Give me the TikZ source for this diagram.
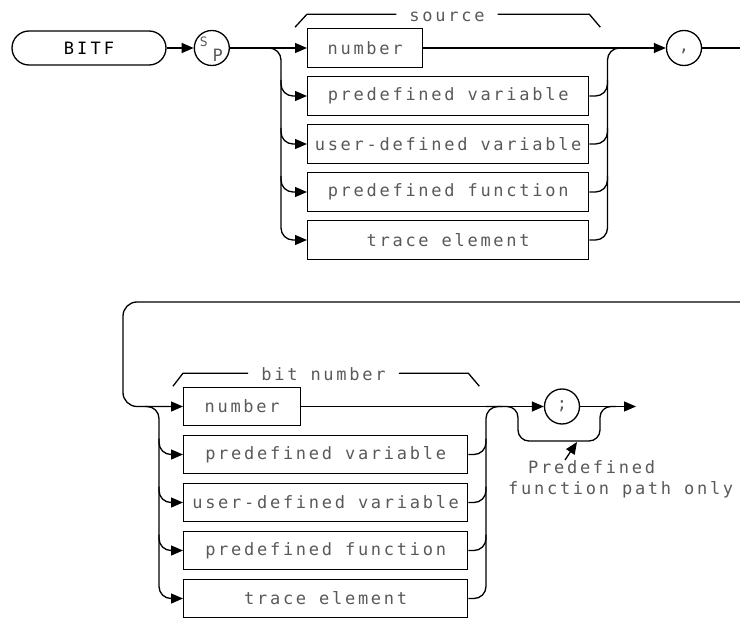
\documentclass[tikz,border=0pt]{standalone}
\usepackage{fontspec}
\newfontfamily\hpfont[LetterSpace=16]{DejaVu Sans Mono}
\newfontfamily\hpkey[LetterSpace=18]{DejaVu Sans Mono}
\usetikzlibrary{arrows.meta, positioning, calc}
\newcommand{\hptext}{\fontsize{17}{19}\hpfont}
\newcommand{\hpsmall}{\fontsize{13}{14}\hpfont}
\newcommand{\hpbig}{\fontsize{17}{19}\hpkey}
\tikzset{
  kbox/.style={draw, line width=1.3pt, rounded corners=17pt, minimum width=154pt,
    minimum height=34pt, inner sep=0pt, font=\hpbig},
  ebox/.style={draw, line width=1.3pt, minimum height=38.5pt, inner sep=0pt,
    font=\hptext, text=black!65},
  cnode/.style={draw, circle, line width=1.3pt, minimum size=35pt, inner sep=0pt,
    font=\hptext, text=black!65},
  tag/.style={inner sep=0pt, font=\hptext, text=black!65},
  rail/.style={line width=1.3pt, rounded corners=12pt},
  flow/.style={-{Triangle[length=12pt,width=10pt]}, line width=1.3pt},
}

\begin{document}
\begin{tikzpicture}[x=1pt, y=-1pt]
  \useasboundingbox (0,0) rectangle (740,618);
  % keyword and prefix
  \node[kbox] (bitf) at (89,48) {BITF};
  \node[cnode, right=27pt of bitf] (sp) {};
  \node[tag, font=\hpsmall] (spS) at ($(sp)+(-8,-6)$) {S};
  \node[tag] (spP) at ($(sp)+(6,7)$) {P};

  % source choices
  \node[ebox, minimum width=115pt, anchor=west] (src1) at (307,48) {number};
  \node[ebox, minimum width=281pt, below=8.2pt of src1.south west, anchor=north west] (src2) {predefined variable};
  \node[ebox, minimum width=281pt, below=8.2pt of src2] (src3) {user-defined variable};
  \node[ebox, minimum width=281pt, below=8.2pt of src3] (src4) {predefined function};
  \node[ebox, minimum width=281pt, below=8.2pt of src4] (src5) {trace element};
  \node[tag, anchor=base] (srclab) at (447,21.7) {source};
  \node[cnode] (comma) at (684,48) {\smash{\raisebox{-4pt}{,}}};

  \coordinate (splitA) at (265,48);
  \coordinate (railA) at (281,48);
  \coordinate (railB) at (607.5,48);
  \coordinate (joinA) at (624,48);
  \coordinate (wrapR) at (740,48);

  \draw[flow] (bitf) -- (sp);
  \draw[flow] (sp) -- (src1);
  \draw[flow, rail] (splitA) -| (railA |- src5.west) -- (src5.west);
  \foreach \i in {2,3,4}
    \draw[flow, rail] ($(railA |- src\i.west)+(0,-16)$) |- (src\i.west);
  \draw[rail] (src5.east) -| (railB) -- (joinA);
  \foreach \i in {2,3,4}
    \draw[rail] (src\i.east) -| ($(railB |- src\i.east)+(0,-16)$);
  \draw[flow] (src1) -- (comma);
  \draw[line width=1.3pt] (comma) -- (wrapR);
  \draw[line width=1.3pt] ($(srclab.base west)+(-13,-7.5)$) -- ($(src2.west |- srclab.base)+(0,-7.5)$) -- ++(-12,13);
  \draw[line width=1.3pt] ($(srclab.base east)+(13,-7.5)$) -- ($(src2.east |- srclab.base)+(0,-7.5)$) -- ++(11,13);

  % bit number choices
  \node[ebox, minimum width=117pt, anchor=west] (bit1) at (183,406.5) {number};
  \node[ebox, minimum width=284pt, below=8.2pt of bit1.south west, anchor=north west] (bit2) {predefined variable};
  \node[ebox, minimum width=284pt, below=8.2pt of bit2] (bit3) {user-defined variable};
  \node[ebox, minimum width=284pt, below=8.2pt of bit3] (bit4) {predefined function};
  \node[ebox, minimum width=284pt, below=8.2pt of bit4] (bit5) {trace element};
  \node[tag, anchor=base] (bitlab) at (323.5,380.7) {bit number};
  \node[cnode] (semi) at (562,406.5) {;};

  \coordinate (wrapL) at (740,302);
  \coordinate (railC) at (123,302);
  \coordinate (splitB) at (145,406.5);
  \coordinate (railD) at (159,406.5);
  \coordinate (railE) at (486,406.5);
  \coordinate (joinB) at (502,406.5);
  \coordinate (byL) at (518,441);
  \coordinate (byR) at (600,441);
  \coordinate (rejoin) at (616,406.5);
  \coordinate (done) at (636,406.5);
  \coordinate (skip) at (577,442);

  \draw[flow, rail, rounded corners=14pt] (wrapL) -| (railC |- bit1.west) -- (bit1.west);
  \draw[flow, rail] (splitB) -| (railD |- bit5.west) -- (bit5.west);
  \foreach \i in {2,3,4}
    \draw[flow, rail] ($(railD |- bit\i.west)+(0,-16)$) |- (bit\i.west);
  \draw[rail] (bit5.east) -| (railE) -- (joinB);
  \foreach \i in {2,3,4}
    \draw[rail] (bit\i.east) -| ($(railE |- bit\i.east)+(0,-16)$);
  \draw[flow] (bit1) -- (semi);
  \draw[flow] (semi) -- (done);
  \draw[rail, rounded corners=11pt] (railE) -| (byL) -- (byR) |- (rejoin);
  \draw[line width=1.3pt] ($(bitlab.base west)+(-13,-7.5)$) -- ($(bit2.west |- bitlab.base)+(0,-7.5)$) -- ++(-10,13);
  \draw[line width=1.3pt] ($(bitlab.base east)+(13,-7.5)$) -- ($(bit2.east |- bitlab.base)+(0,-7.5)$) -- ++(11,13);

  % note on the bypass
  \node[tag, anchor=base west] (note1) at (528,473) {Predefined};
  \node[tag, anchor=base west] (note2) at (508,494.5) {function path only};
  \draw[flow] ($(note1.base west)+(37,-13)$) -- (skip);
\end{tikzpicture}
\end{document}
